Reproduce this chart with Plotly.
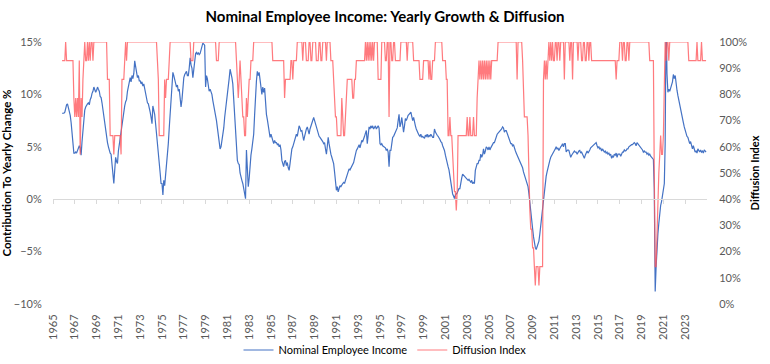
import pandas as pd
import plotly.graph_objects as go

start_month = "1965-11-01"

# Nominal employee income, yearly growth (%), monthly from Nov 1965
income_growth = [
    8.2, 8.2,
    8.2, 8.3, 8.8, 9.0, 9.1, 8.7, 8.6, 8.0, 7.3, 6.2, 5.0, 4.4,          # 1966
    4.4, 4.5, 4.4, 4.6, 4.8, 5.1, 4.9, 4.2, 5.5, 6.8, 7.8, 8.5,          # 1967
    8.8, 9.0, 9.1, 9.2, 9.0, 9.5, 9.7, 10.1, 10.3, 10.7, 10.4, 10.2,     # 1968
    10.4, 10.7, 10.5, 10.3, 9.8, 9.7, 9.2, 8.5, 7.8, 7.2, 6.5, 5.8,      # 1969
    5.4, 5.0, 4.6, 4.4, 4.3, 3.5, 2.6, 1.5, 2.8, 4.0, 3.6, 3.4,          # 1970
    4.6, 5.3, 5.9, 6.5, 7.2, 8.0, 8.4, 8.9, 9.3, 9.5, 10.3, 10.8,        # 1971
    11.3, 11.6, 11.2, 11.8, 11.5, 12.0, 13.2, 12.5, 11.9, 11.6, 11.8, 11.3,  # 1972
    11.3, 11.0, 11.2, 10.8, 11.0, 10.5, 10.0, 9.6, 9.2, 9.1, 8.8, 8.3,   # 1973
    7.8, 7.2, 8.9, 8.5, 8.1, 7.2, 6.4, 5.3, 4.4, 3.4, 2.5, 1.5,          # 1974
    1.5, 0.4, 1.8, 1.3, 2.2, 2.8, 3.8, 5.3, 6.8, 8.0, 9.1, 10.5,         # 1975
    12.1, 11.8, 11.5, 11.0, 10.7, 10.9, 10.3, 10.5, 9.8, 8.8, 9.5, 11.0, # 1976
    11.6, 11.9, 12.0, 12.2, 11.8, 11.8, 12.5, 13.5, 12.8, 12.5, 11.6, 12.4,  # 1977
    13.7, 13.9, 14.0, 13.8, 14.0, 13.8, 13.9, 14.3, 14.5, 14.9, 14.8, 14.7,  # 1978
    10.7, 11.8, 11.5, 11.0, 10.3, 10.5, 10.3, 10.0, 9.4, 9.0, 8.5, 8.1,  # 1979
    7.5, 6.8, 6.2, 5.5, 4.8, 5.0, 5.6, 6.0, 6.8, 7.8, 8.5, 9.4,          # 1980
    9.8, 10.6, 11.5, 12.4, 12.1, 11.6, 11.0, 9.6, 8.0, 6.7, 5.0, 3.7,    # 1981
    3.4, 3.3, 2.5, 2.0, 1.8, 1.5, 1.0, 0.5, 0.05, 4.7, 2.5, 1.2,         # 1982
    2.0, 3.4, 4.2, 4.8, 5.5, 6.2, 8.0, 10.0, 11.3, 12.2, 11.8, 12.1,     # 1983
    11.5, 10.5, 10.0, 10.7, 10.2, 10.6, 9.0, 8.1, 7.6, 6.9, 6.2, 5.9,    # 1984
    6.2, 5.9, 5.5, 5.3, 5.6, 5.4, 5.4, 5.2, 5.3, 5.0, 5.2, 4.7,          # 1985
    3.7, 3.3, 3.1, 3.6, 3.7, 3.2, 3.5, 3.0, 2.75, 3.4, 4.3, 4.8,         # 1986
    5.0, 5.3, 5.6, 5.9, 6.2, 6.0, 6.6, 7.0, 6.8, 6.5, 6.55, 6.0,         # 1987
    5.6, 6.0, 6.55, 6.7, 6.9, 6.5, 6.2, 6.7, 7.0, 7.3, 7.6, 7.8,         # 1988
    7.5, 7.2, 7.0, 6.6, 6.2, 6.0, 5.9, 5.8, 5.6, 5.5, 5.3, 5.4,          # 1989
    4.8, 4.3, 5.0, 5.9, 5.3, 4.65, 4.3, 4.0, 3.7, 3.4, 2.6, 1.8,         # 1990
    0.85, 1.2, 0.7, 1.0, 1.3, 1.2, 1.4, 1.5, 1.6, 1.5, 1.8, 2.1,         # 1991
    2.4, 2.6, 2.9, 2.8, 3.0, 3.2, 3.3, 3.5, 3.9, 4.4, 4.65, 4.8,         # 1992
    5.0, 5.2, 4.9, 5.4, 5.6, 5.5, 5.9, 6.0, 6.3, 6.55, 5.3, 6.2,         # 1993
    6.9, 6.7, 7.0, 6.8, 7.0, 6.7, 6.9, 7.0, 6.7, 6.8, 7.0, 6.8,          # 1994
    5.3, 5.2, 5.3, 5.1, 5.0, 5.0, 4.9, 4.65, 4.8, 4.5, 3.1, 4.65,        # 1995
    4.65, 5.3, 5.9, 6.0, 6.2, 6.4, 6.55, 6.8, 7.5, 8.1, 6.9, 7.2,        # 1996
    7.8, 7.2, 6.4, 7.0, 7.7, 7.5, 7.8, 8.0, 8.1, 8.2, 8.3, 7.9,          # 1997
    7.5, 7.8, 7.3, 7.0, 6.7, 6.4, 6.3, 6.1, 6.0, 6.2, 5.9, 6.0,          # 1998
    5.9, 5.8, 6.1, 6.0, 6.2, 5.9, 6.1, 6.0, 6.2, 6.0, 5.9, 5.9,          # 1999
    6.7, 6.4, 6.2, 6.1, 6.0, 5.9, 5.7, 5.5, 5.4, 5.1, 4.9, 4.65,         # 2000
    4.2, 3.7, 3.4, 3.1, 2.8, 2.1, 1.4, 0.7, 0.5, 0.3, 0.06, 0.4,         # 2001
    0.5, 0.6, 0.8, 1.0, 1.0, 1.8, 2.0, 2.4, 2.3, 2.2, 2.1, 2.0,          # 2002
    2.0, 1.8, 1.9, 1.7, 1.6, 1.8, 1.5, 1.6, 1.5, 2.75, 3.0, 3.4,         # 2003
    3.4, 3.7, 3.7, 4.3, 4.0, 4.2, 4.8, 4.3, 4.6, 5.0, 4.9, 4.7,          # 2004
    5.0, 4.7, 4.9, 5.1, 5.3, 5.4, 5.4, 5.7, 5.9, 6.2, 6.3, 6.4,          # 2005
    6.4, 6.6, 6.7, 6.9, 6.8, 6.4, 6.55, 6.55, 6.3, 5.9, 5.7, 5.5,        # 2006
    5.3, 5.3, 5.1, 5.2, 5.0, 4.65, 4.4, 4.2, 4.0, 3.7, 3.5, 3.4,         # 2007
    3.2, 3.0, 2.6, 2.3, 2.1, 1.9, 1.6, 1.2, 0.5, -0.5, -1.2, -1.9,       # 2008
    -2.8, -3.6, -4.2, -4.6, -4.8, -4.5, -4.3, -4.0, -3.3, -2.5, -1.7, -0.8,  # 2009
    0.2, 1.0, 1.5, 2.2, 2.6, 3.1, 3.5, 3.7, 4.0, 4.2, 4.4, 4.5,          # 2010
    4.65, 4.8, 5.0, 4.8, 4.9, 4.65, 4.9, 5.0, 5.1, 5.3, 5.0, 5.3,        # 2011
    5.3, 4.5, 4.65, 4.7, 4.65, 4.3, 4.0, 4.2, 4.3, 4.5, 4.6, 4.5,        # 2012
    4.5, 4.3, 4.5, 4.6, 4.65, 4.4, 4.5, 4.3, 4.1, 3.9, 4.2, 4.5,         # 2013
    4.6, 4.4, 4.65, 4.7, 4.9, 5.0, 5.0, 5.2, 5.3, 5.3, 5.4, 5.1,         # 2014
    4.9, 5.0, 4.8, 4.9, 4.6, 4.8, 4.7, 4.5, 4.6, 4.4, 4.5, 4.3,          # 2015
    4.4, 4.2, 4.3, 3.9, 4.1, 4.0, 4.3, 4.2, 4.4, 4.0, 4.3, 4.3,          # 2016
    4.3, 4.1, 4.4, 4.5, 4.5, 4.7, 4.6, 4.65, 4.8, 4.8, 5.0, 5.1,         # 2017
    5.1, 5.2, 5.2, 5.3, 5.4, 5.3, 5.1, 5.4, 5.3, 5.1, 5.0, 4.9,          # 2018
    4.8, 4.7, 4.5, 4.6, 4.5, 4.5, 4.3, 4.4, 4.2, 4.3, 4.1, 4.0,          # 2019
    3.9, 3.8, 1.0, -8.8, -6.5, -4.5, -3.3, -2.3, -1.2, -0.6, -0.2, 0.3,  # 2020
    0.8, 1.5, 5.3, 17.5, 12.0, 10.2, 10.5, 10.3, 10.6, 10.9, 11.2, 11.9, # 2021
    11.5, 11.8, 10.9, 10.4, 9.9, 9.4, 9.0, 8.4, 7.9, 7.5, 7.3, 6.9,      # 2022
    6.5, 6.2, 6.0, 5.9, 5.6, 5.3, 5.5, 5.0, 4.8, 5.1, 4.6, 4.5,          # 2023
    4.6, 4.4, 4.8, 4.65, 4.5, 4.7, 4.5, 4.6, 4.4, 4.7, 4.6, 4.5,         # 2024
]

# Diffusion index (% of components growing), monthly from Nov 1965
diffusion_index = [
    92.9, 92.9,
    92.9, 92.9, 100, 92.9, 92.9, 92.9, 92.9, 92.9, 92.9, 92.9, 92.9, 78.6,   # 1966
    71.4, 78.6, 71.4, 78.6, 71.4, 92.9, 57.1, 78.6, 71.4, 85.7, 92.9, 100,   # 1967
    92.9, 92.9, 100, 92.9, 100, 92.9, 100, 100, 92.9, 100, 100, 100,         # 1968
    100, 100, 100, 100, 100, 100, 100, 100, 100, 100, 100, 100,              # 1969
    85.7, 85.7, 85.7, 64.3, 64.3, 64.3, 64.3, 57.1, 64.3, 64.3, 64.3, 64.3,  # 1970
    64.3, 64.3, 64.3, 57.1, 85.7, 85.7, 85.7, 92.9, 100, 92.9, 100, 100,     # 1971
    100, 100, 100, 100, 100, 100, 100, 100, 100, 100, 100, 100,              # 1972
    100, 100, 100, 100, 100, 100, 100, 100, 100, 100, 100, 100,              # 1973
    100, 100, 100, 100, 100, 100, 100, 92.9, 85.7, 64.3, 64.3, 64.3,         # 1974
    64.3, 64.3, 64.3, 85.7, 78.6, 85.7, 85.7, 85.7, 92.9, 100, 100, 100,     # 1975
    100, 100, 100, 100, 100, 100, 100, 100, 100, 100, 100, 100,              # 1976
    100, 100, 100, 100, 100, 100, 100, 100, 92.9, 92.9, 92.9, 100,           # 1977
    100, 100, 100, 100, 100, 100, 100, 100, 100, 100, 100, 100,              # 1978
    100, 100, 100, 100, 100, 100, 100, 100, 100, 100, 100, 100,              # 1979
    92.9, 92.9, 92.9, 100, 100, 100, 100, 100, 100, 100, 100, 100,           # 1980
    100, 100, 100, 100, 100, 100, 100, 100, 100, 100, 92.9, 85.7,            # 1981
    78.6, 85.7, 92.9, 85.7, 78.6, 71.4, 71.4, 64.3, 64.3, 78.6, 71.4, 78.6,  # 1982
    85.7, 85.7, 92.9, 92.9, 92.9, 100, 100, 100, 100, 100, 100, 100,         # 1983
    100, 100, 100, 100, 100, 100, 100, 100, 100, 100, 100, 100,              # 1984
    100, 100, 92.9, 92.9, 92.9, 92.9, 92.9, 92.9, 92.9, 92.9, 92.9, 92.9,    # 1985
    92.9, 92.9, 92.9, 78.6, 85.7, 85.7, 85.7, 85.7, 85.7, 85.7, 92.9, 92.9,  # 1986
    85.7, 92.9, 92.9, 92.9, 92.9, 100, 100, 100, 100, 100, 100, 92.9,        # 1987
    100, 100, 100, 92.9, 92.9, 92.9, 100, 100, 92.9, 92.9, 100, 100,         # 1988
    100, 100, 92.9, 92.9, 92.9, 100, 100, 92.9, 92.9, 100, 100, 100,         # 1989
    100, 92.9, 100, 100, 100, 100, 92.9, 92.9, 92.9, 85.7, 78.6, 71.4,       # 1990
    71.4, 64.3, 64.3, 64.3, 64.3, 64.3, 78.6, 71.4, 64.3, 64.3, 71.4, 78.6,  # 1991
    85.7, 85.7, 85.7, 85.7, 85.7, 85.7, 78.6, 78.6, 85.7, 85.7, 92.9, 92.9,  # 1992
    92.9, 92.9, 92.9, 92.9, 92.9, 92.9, 92.9, 92.9, 100, 92.9, 100, 92.9,    # 1993
    100, 92.9, 100, 92.9, 100, 92.9, 100, 100, 100, 100, 85.7, 85.7,         # 1994
    85.7, 85.7, 100, 100, 100, 100, 92.9, 92.9, 100, 100, 71.4, 100,         # 1995
    100, 92.9, 92.9, 100, 100, 92.9, 92.9, 92.9, 92.9, 92.9, 92.9, 100,      # 1996
    100, 100, 100, 100, 100, 100, 92.9, 100, 100, 100, 100, 100,             # 1997
    100, 92.9, 92.9, 92.9, 92.9, 92.9, 92.9, 92.9, 85.7, 85.7, 85.7, 85.7,   # 1998
    92.9, 92.9, 92.9, 92.9, 92.9, 92.9, 85.7, 92.9, 85.7, 85.7, 92.9, 92.9,  # 1999
    92.9, 100, 100, 100, 100, 100, 100, 100, 100, 92.9, 92.9, 92.9,          # 2000
    92.9, 85.7, 85.7, 64.3, 64.3, 71.4, 64.3, 64.3, 57.1, 50.0, 42.9, 42.9,  # 2001
    35.7, 42.9, 64.3, 64.3, 64.3, 64.3, 64.3, 64.3, 64.3, 64.3, 64.3, 64.3,  # 2002
    71.4, 64.3, 64.3, 71.4, 64.3, 64.3, 64.3, 71.4, 64.3, 64.3, 64.3, 78.6,  # 2003
    85.7, 92.9, 85.7, 92.9, 85.7, 92.9, 85.7, 92.9, 85.7, 92.9, 85.7, 92.9,  # 2004
    85.7, 92.9, 85.7, 92.9, 92.9, 92.9, 92.9, 92.9, 92.9, 92.9, 100, 100,    # 2005
    100, 100, 100, 100, 100, 100, 100, 100, 100, 100, 100, 100,              # 2006
    100, 100, 100, 100, 100, 100, 100, 85.7, 100, 100, 100, 100,             # 2007
    100, 92.9, 78.6, 71.4, 71.4, 71.4, 71.4, 64.3, 42.9, 35.7, 28.6, 28.6,   # 2008
    21.4, 21.4, 14.3, 7.1, 14.3, 14.3, 14.3, 7.1, 14.3, 14.3, 14.3, 14.3,    # 2009
    85.7, 92.9, 85.7, 92.9, 85.7, 92.9, 100, 92.9, 100, 92.9, 100, 92.9,     # 2010
    92.9, 100, 100, 92.9, 100, 100, 92.9, 100, 100, 100, 100, 85.7,          # 2011
    100, 100, 100, 100, 100, 92.9, 100, 100, 85.7, 100, 100, 100,            # 2012
    100, 100, 92.9, 100, 100, 100, 92.9, 92.9, 100, 100, 92.9, 92.9,         # 2013
    100, 100, 92.9, 100, 100, 92.9, 92.9, 92.9, 92.9, 92.9, 92.9, 92.9,      # 2014
    92.9, 92.9, 92.9, 92.9, 92.9, 92.9, 92.9, 92.9, 92.9, 92.9, 92.9, 92.9,  # 2015
    92.9, 92.9, 92.9, 92.9, 92.9, 92.9, 92.9, 92.9, 85.7, 92.9, 92.9, 92.9,  # 2016
    100, 100, 100, 92.9, 100, 100, 92.9, 92.9, 100, 100, 92.9, 100,          # 2017
    100, 100, 100, 100, 100, 100, 100, 100, 100, 100, 100, 100,              # 2018
    100, 100, 100, 100, 100, 100, 100, 100, 100, 92.9, 92.9, 92.9,           # 2019
    92.9, 92.9, 50.0, 14.3, 14.3, 28.6, 42.9, 50.0, 57.1, 64.3, 57.1, 57.1,  # 2020
    64.3, 85.7, 100, 92.9, 100, 100, 92.9, 100, 100, 100, 100, 100,          # 2021
    100, 100, 100, 100, 100, 100, 100, 100, 100, 100, 100, 100,              # 2022
    100, 100, 100, 100, 92.9, 92.9, 92.9, 92.9, 92.9, 92.9, 92.9, 92.9,      # 2023
    92.9, 100, 92.9, 92.9, 92.9, 92.9, 100, 92.9, 92.9, 92.9, 92.9, 92.9,    # 2024
]

tick_years = ["1965", "1967", "1969", "1971", "1973", "1975", "1977", "1979",
              "1981", "1983", "1985", "1987", "1989", "1991", "1993", "1995",
              "1997", "1999", "2001", "2003", "2005", "2007", "2009", "2011",
              "2013", "2015", "2017", "2019", "2021", "2023"]

series_names = ["Nominal Employee Income", "Diffusion Index"]
chart_title = "Nominal Employee Income: Yearly Growth & Diffusion"
left_title = "Contribution To Yearly Change %"
right_title = "Diffusion Index"

assert len(income_growth) == len(diffusion_index)
months = pd.date_range(start_month, periods=len(income_growth), freq="MS")
tick_dates = [y + "-01-01" for y in tick_years]

FONT = "Lato, 'Open Sans', Arial, sans-serif"
TICK = dict(family=FONT, size=11, color="#595959")
x_range = ["1965-01-01", "2025-01-01"]
HIDDEN = "rgba(0,0,0,0)"

fig = go.Figure()
fig.add_trace(go.Scatter(
    x=months, y=income_growth, name=series_names[0], mode="lines",
    line=dict(color="#4472C4", width=1.2), hoverinfo="skip"))
fig.add_trace(go.Scatter(
    x=months, y=diffusion_index, name=series_names[1], mode="lines",
    line=dict(color="#FF5A5F", width=1.2), opacity=0.8, yaxis="y2", hoverinfo="skip"))
# empty trace that carries the zero-crossing category axis
fig.add_trace(go.Scatter(x=[], y=[], xaxis="x2", yaxis="y", showlegend=False, hoverinfo="skip"))

fig.update_layout(
    width=770, height=364,
    margin=dict(l=53, r=63, t=42, b=60),
    paper_bgcolor="white", plot_bgcolor="white",
    font=dict(family=FONT, color="#404040"),
    title=dict(text="<b>" + chart_title + "</b>", x=0.5, xanchor="center",
               y=1 - 17 / 364, yanchor="middle", yref="container",
               font=dict(family=FONT, size=15, color="#000000")),
    xaxis=dict(type="date", range=x_range, tickvals=tick_dates, ticktext=tick_years,
               tickangle=-90, showgrid=False, showline=False,
               zeroline=False, ticks="outside", ticklen=5, tickcolor=HIDDEN,
               tickfont=TICK, automargin=False),
    xaxis2=dict(type="date", range=x_range, tickvals=tick_dates,
                overlaying="x", anchor="free", position=0.4,
                showticklabels=False, showgrid=False, showline=True,
                linecolor="#D9D9D9", linewidth=1, ticks="outside", ticklen=4,
                tickcolor="#D9D9D9", zeroline=False, automargin=False),
    yaxis=dict(range=[-10, 15], dtick=5, ticksuffix="%", showgrid=False,
               zeroline=False, showline=False, tickfont=TICK,
               ticks="outside", ticklen=8, tickcolor=HIDDEN, automargin=False,
               title=dict(text="<b>" + left_title + "</b>", standoff=0,
                          font=dict(family=FONT, size=11.5, color="#000000"))),
    yaxis2=dict(range=[0, 100], dtick=10, ticksuffix="%", overlaying="y",
                side="right", showgrid=False, zeroline=False, showline=False,
                ticks="outside", ticklen=9, tickcolor=HIDDEN, automargin=False,
                tickfont=TICK,
                title=dict(text="<b>" + right_title + "</b>", standoff=4,
                           font=dict(family=FONT, size=11, color="#000000"))),
    legend=dict(orientation="h", x=0.5, xanchor="center", xref="container",
                y=1 - 350 / 364, yanchor="middle", yref="container",
                font=dict(family=FONT, size=11, color="#000000"),
                bgcolor="rgba(0,0,0,0)"),
    showlegend=True,
)

fig.write_html("out.html", config={"displayModeBar": False},
               post_script="document.body.style.margin='0';document.body.style.overflow='hidden';")
